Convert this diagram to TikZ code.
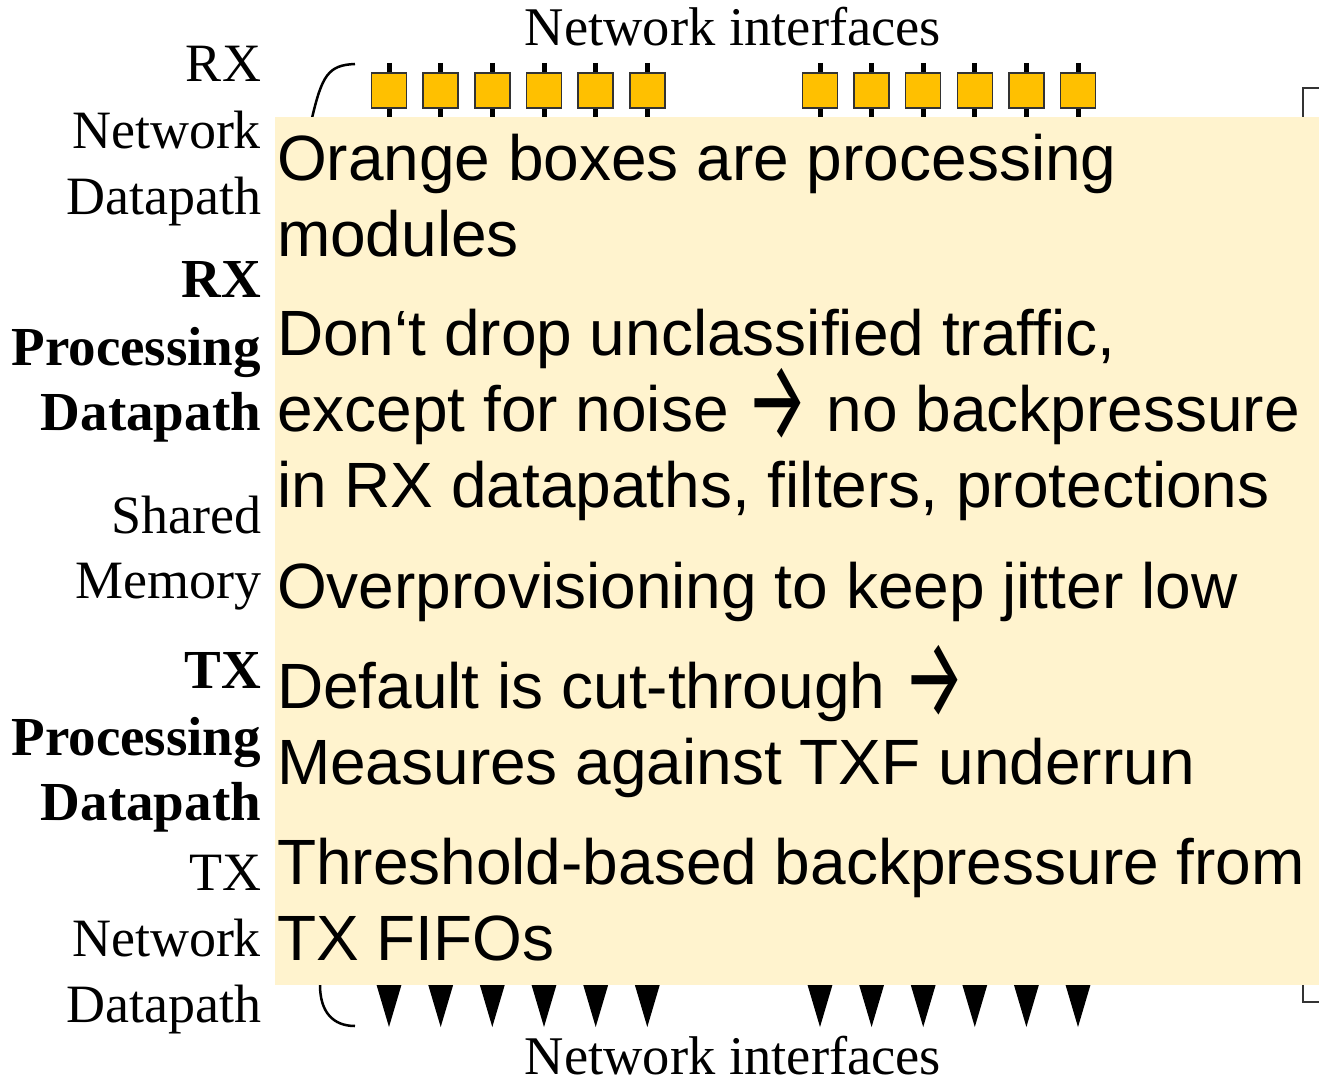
\documentclass[tikz,border=0pt]{standalone}
\usepackage{fontspec}
\setmainfont{Liberation Serif}
\newfontfamily\notefont{Liberation Sans}
\newfontfamily\arrowfont{Fira Sans}
\newcommand{\bigarrow}{{\arrowfont\smash{\raisebox{-9pt}{\scalebox{1.08}[1.77]{→}}}}}
\definecolor{modorange}{HTML}{FFC000}
\definecolor{noteyellow}{HTML}{FFF3CE}
\definecolor{edgegray}{HTML}{333333}
\tikzset{
  lbl/.style={anchor=base east, inner sep=0pt, outer sep=0pt, font=\fontsize{54}{66}\selectfont},
  lblb/.style={lbl, font=\fontsize{55}{66}\selectfont\bfseries},
  iface/.style={anchor=base, inner sep=0pt, font=\fontsize{54.5}{66}\selectfont},
  note/.style={anchor=base west, inner sep=0pt, outer sep=0pt, font=\notefont\fontsize{64}{76}\selectfont},
  stem/.style={line width=5pt},
  modbox/.style={draw=edgegray, line width=1.5pt, fill=modorange, minimum width=35pt, minimum height=35pt, inner sep=0pt},
  tri/.style={fill=black},
  brace/.style={line width=2.5pt},
  bracket/.style={draw=edgegray, line width=2pt}
}
\begin{document}
\begin{tikzpicture}[x=1pt,y=-1pt]
\useasboundingbox (0,0) rectangle (1319,1083);
\fill[white] (0,0) rectangle (1319,1083);
% interfaces labels
\node[iface] (ifacetop) at (733,46) {Network interfaces};
\node[iface] (ifacebot) at (733,1074) {Network interfaces};
% module boxes and stems
\foreach \i/\x in {1/389,2/440.7,3/492.3,4/544,5/595.7,6/647.3,7/820,8/871.6,9/923.2,10/974.8,11/1026.4,12/1078}{
  \coordinate (st\i) at (\x,63);
  \coordinate (sb\i) at (\x,120);
  \draw[stem] (st\i) -- (sb\i);
  \node[modbox] (m\i) at (\x,90.5) {};
  \coordinate (tl\i) at (\x-14.5,978);
  \coordinate (tr\i) at (\x+14.5,978);
  \coordinate (tt\i) at (\x,1027);
  \fill[tri] (tl\i) -- (tr\i) -- (tt\i) -- cycle;
}
% braces
\coordinate (bt1) at (312,118);
\coordinate (bt2) at (355,64);
\draw[brace] (bt1) .. controls (322,76) and (328,65) .. (bt2);
\coordinate (bb1) at (320,985);
\coordinate (bb2) at (355,1026);
\draw[brace] (bb1) .. controls (320,1012) and (333,1026) .. (bb2);
% right bracket
\coordinate (rb1) at (1319,88);
\coordinate (rb2) at (1303,88);
\coordinate (rb3) at (1303,120);
\draw[bracket] (rb1) -- (rb2) -- (rb3);
\coordinate (rc1) at (1303,980);
\coordinate (rc2) at (1303,1002);
\coordinate (rc3) at (1319,1002);
\draw[bracket] (rc1) -- (rc2) -- (rc3);
% left labels
\node[lbl] (l1) at (261,82) {RX};
\node[lbl] (l2) at (261,149) {Network};
\node[lbl] (l3) at (261,215) {Datapath};
\node[lblb] (l4) at (261,298) {RX};
\node[lblb] (l5) at (261,365) {Processing};
\node[lblb] (l6) at (261,430) {Datapath};
\node[lbl] (l7) at (261,533) {Shared};
\node[lbl] (l8) at (261,598) {Memory};
\node[lblb] (l9) at (261,688) {TX};
\node[lblb] (l10) at (261,755) {Processing};
\node[lblb] (l11) at (261,820) {Datapath};
\node[lbl] (l12) at (261,890) {TX};
\node[lbl] (l13) at (261,956) {Network};
\node[lbl] (l14) at (261,1022) {Datapath};
% overlay note
\fill[noteyellow] (275,117) rectangle (1319,985);
\node[note] (n1) at (277,181) {Orange boxes are processing};
\node[note] (n2) at (277,257) {modules};
\node[note] (n3) at (277,355) {Don‘t drop unclassified traffic,};
\node[note] (n4) at (277,431) {except for noise \bigarrow{} no backpressure};
\node[note] (n5) at (277,507) {in RX datapaths, filters, protections};
\node[note] (n6) at (277,608) {Overprovisioning to keep jitter low};
\node[note] (n7) at (277,708) {Default is cut-through \bigarrow};
\node[note] (n8) at (277,784) {Measures against TXF underrun};
\node[note] (n9) at (277,884) {Threshold-based backpressure from};
\node[note] (n10) at (277,960) {TX FIFOs};
\end{tikzpicture}
\end{document}
